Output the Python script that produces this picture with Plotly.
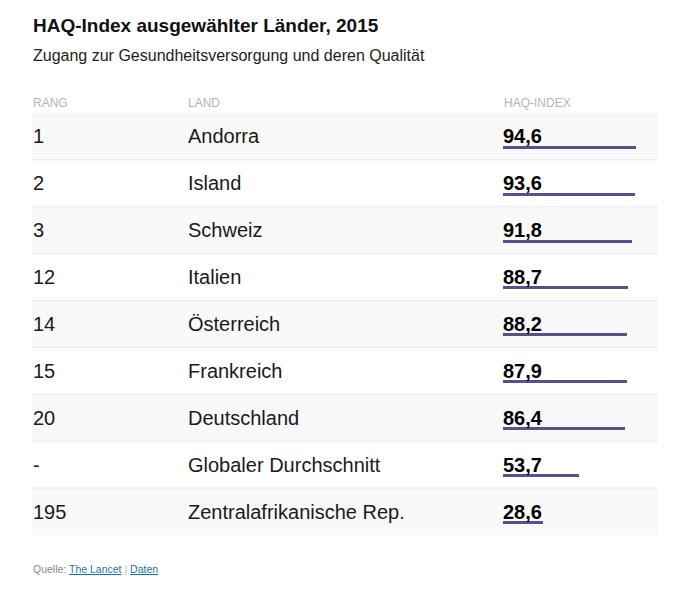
import plotly.graph_objects as go

rang = ["1", "2", "3", "12", "14", "15", "20", "-", "195"]
land = ["Andorra", "Island", "Schweiz", "Italien", "Österreich", "Frankreich",
        "Deutschland", "Globaler Durchschnitt", "Zentralafrikanische Rep."]
haq = [94.6, 93.6, 91.8, 88.7, 88.2, 87.9, 86.4, 53.7, 28.6]
headers = ["RANG", "LAND", "HAQ-INDEX"]

W, H = 675, 589
OFF = 8  # page body margin
FONT = "Arial, Liberation Sans, sans-serif"
BAR_COLOR = "#55528a"

rows = list(range(len(land)))


def py(px):
    # pixel from top of page -> paper fraction
    return 1 - (px - OFF) / H


def pxx(px):
    return (px - OFF) / W


fig = go.Figure()

# underline bars for the HAQ values
fig.add_trace(go.Bar(
    x=haq, y=rows, orientation="h",
    xaxis="x2", yaxis="y",
    width=0.064, offset=0.2,
    marker=dict(color=BAR_COLOR, line=dict(width=0), cornerradius=2),
    hoverinfo="skip", showlegend=False,
))

annotations = []
# title & subtitle
annotations.append(dict(text="<b>HAQ-Index ausgewählter Länder, 2015</b>", x=pxx(31), y=py(26),
                        xref="paper", yref="paper", xanchor="left", yanchor="middle",
                        showarrow=False, font=dict(family=FONT, size=19, color="#111111")))
annotations.append(dict(text="Zugang zur Gesundheitsversorgung und deren Qualität", x=pxx(31), y=py(56),
                        xref="paper", yref="paper", xanchor="left", yanchor="middle",
                        showarrow=False, font=dict(family=FONT, size=16, color="#222222")))

# column headers
col_x = [31, 186, 502]
for h, cx in zip(headers, col_x):
    annotations.append(dict(text=h, x=pxx(cx), y=py(103), xref="paper", yref="paper",
                            xanchor="left", yanchor="middle", showarrow=False,
                            font=dict(family=FONT, size=12, color="#b4b4b4")))

# table cells
for i in rows:
    annotations.append(dict(text=rang[i], x=pxx(col_x[0]), y=i, xref="paper", yref="y",
                            xanchor="left", yanchor="middle", showarrow=False,
                            font=dict(family=FONT, size=20, color="#1a1a1a")))
    annotations.append(dict(text=land[i], x=pxx(col_x[1]), y=i, xref="paper", yref="y",
                            xanchor="left", yanchor="middle", showarrow=False,
                            font=dict(family=FONT, size=20, color="#1a1a1a")))
    annotations.append(dict(text="<b>" + f"{haq[i]:.1f}".replace(".", ",") + "</b>",
                            x=0, y=i, xref="x2", yref="y", xshift=-2,
                            xanchor="left", yanchor="middle", showarrow=False,
                            font=dict(family=FONT, size=20, color="#000000")))

# footer
annotations.append(dict(
    text="<span style='color:#8a8a8a'>Quelle: </span>"
         "<span style='color:#1f6fb2'><u>The Lancet</u></span>"
         "<span style='color:#bbbbbb'> | </span>"
         "<span style='color:#1f6fb2'><u>Daten</u></span>",
    x=pxx(31), y=py(569), xref="paper", yref="paper", xanchor="left", yanchor="middle",
    showarrow=False, font=dict(family=FONT, size=10.5)))

# row shading and separators
shapes = []
for i in rows:
    if i % 2 == 0:
        shapes.append(dict(type="rect", xref="paper", yref="y",
                           x0=pxx(32), x1=pxx(658), y0=i - 0.5, y1=i + 0.5,
                           fillcolor="#f9f9f9", line=dict(width=0), layer="below"))
    shapes.append(dict(type="line", xref="paper", yref="y",
                       x0=pxx(32), x1=pxx(658), y0=i - 0.5, y1=i - 0.5,
                       line=dict(color="#ebebeb", width=1), layer="below"))

fig.update_layout(
    width=W, height=H,
    margin=dict(l=0, r=0, t=0, b=0),
    paper_bgcolor="white", plot_bgcolor="rgba(0,0,0,0)",
    xaxis=dict(visible=False, range=[0, 1], domain=[0, 1]),
    xaxis2=dict(visible=False, range=[0, 100], domain=[pxx(503), pxx(644)],
                anchor="y", overlaying="x"),
    yaxis=dict(visible=False, range=[len(land) - 0.5, -0.5],
               domain=[py(535), py(113)]),
    annotations=annotations,
    shapes=shapes,
    showlegend=False,
    bargap=0,
)

fig.write_html("out.html")
